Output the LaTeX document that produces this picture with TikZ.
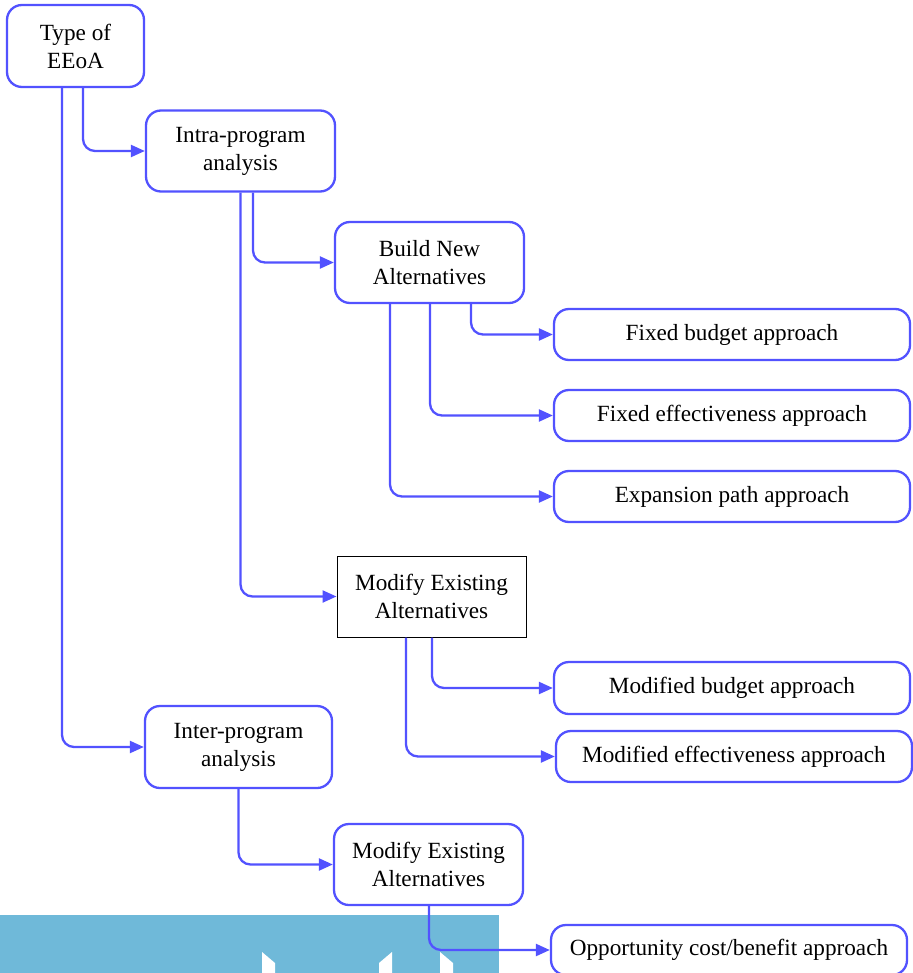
\documentclass[tikz,border=0pt]{standalone}
\usepackage{fontspec}
\setmainfont{Liberation Serif}
\usetikzlibrary{arrows.meta}
\definecolor{lineblue}{RGB}{82,82,255}
\definecolor{bgblue}{RGB}{111,185,217}
\tikzset{
  rbox/.style={draw=lineblue, line width=2.3pt, rounded corners=15pt, fill=white, align=center, inner sep=0pt, font=\fontsize{23.2}{28}\selectfont},
  sbox/.style={draw=black, line width=1pt, fill=white, align=center, inner sep=0pt, font=\fontsize{23.2}{28}\selectfont},
  conn/.style={draw=lineblue, line width=2.3pt, rounded corners=12pt, -{Triangle[length=14pt,width=12pt]}}
}
\begin{document}
\begin{tikzpicture}[x=1pt,y=-1pt]
\useasboundingbox (0,0) rectangle (912,973);
% background fragment
\fill[bgblue] (0,915) rectangle (499,973);
\fill[white] (262,973) -- (262,952) -- (275,963) -- (275,973) -- cycle;
\fill[white] (379,973) -- (379,963) -- (392,952) -- (392,973) -- cycle;
\fill[white] (440,973) -- (440,952) -- (453,963) -- (453,973) -- cycle;

\node[rbox, minimum width=137pt, minimum height=82pt] (t) at (75.5,46) {Type of\\EEoA};
\node[rbox, minimum width=189pt, minimum height=81pt] (intra) at (240.5,151) {Intra-program\\analysis};
\node[rbox, minimum width=189pt, minimum height=81pt] (build) at (429.5,262.5) {Build New\\Alternatives};
\node[rbox, minimum width=356pt, minimum height=51pt] (fb) at (732,334.5) {Fixed budget approach};
\node[rbox, minimum width=356pt, minimum height=51pt] (fe) at (732,415.5) {Fixed effectiveness approach};
\node[rbox, minimum width=356pt, minimum height=51pt] (ep) at (732,496.5) {Expansion path approach};
\node[sbox, minimum width=189pt, minimum height=81pt] (mod) at (431.5,596.5) {Modify Existing\\Alternatives};
\node[rbox, minimum width=356pt, minimum height=52pt] (mb) at (732,688) {Modified budget approach};
\node[rbox, minimum width=356pt, minimum height=51pt] (me) at (734,756.5) {Modified effectiveness approach};
\node[rbox, minimum width=187pt, minimum height=82pt] (inter) at (238.5,747) {Inter-program\\analysis};
\node[rbox, minimum width=189pt, minimum height=81pt] (mod2) at (428.5,864.5) {Modify Existing\\Alternatives};
\node[rbox, minimum width=356pt, minimum height=50pt] (oc) at (729,950) {Opportunity cost/benefit approach};

\draw[conn] ([xshift=7.5pt]t.south) |- (intra.west);
\draw[conn] ([xshift=-13.5pt]t.south) |- (inter.west);
\draw[conn] ([xshift=12.5pt]intra.south) |- (build.west);
\draw[conn] ([xshift=0pt]intra.south) |- (mod.west);
\draw[conn] ([xshift=41.5pt]build.south) |- (fb.west);
\draw[conn] ([xshift=0.5pt]build.south) |- (fe.west);
\draw[conn] ([xshift=-39.5pt]build.south) |- (ep.west);
\draw[conn] ([xshift=0.5pt]mod.south) |- (mb.west);
\draw[conn] ([xshift=-25.5pt]mod.south) |- (me.west);
\draw[conn] ([xshift=0pt]inter.south) |- (mod2.west);
\draw[conn] ([xshift=0.5pt]mod2.south) |- (oc.west);
\end{tikzpicture}
\end{document}
